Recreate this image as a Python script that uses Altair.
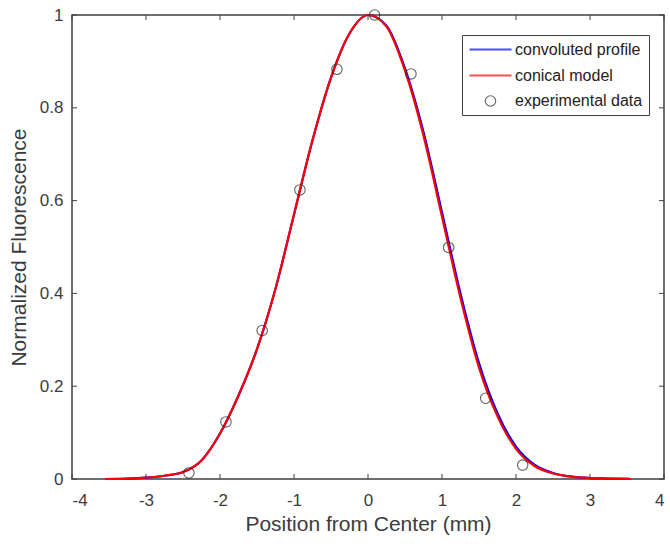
import altair as alt
import pandas as pd

# ---- data ----
x_ticks = [-4, -3, -2, -1, 0, 1, 2, 3, 4]
y_ticks = [0, 0.2, 0.4, 0.6, 0.8, 1]

curve_x = [-3.55, -3.25, -3.0, -2.75, -2.5, -2.25, -2.0, -1.75, -1.5, -1.25,
           -1.0, -0.75, -0.5, -0.25, 0.0, 0.25, 0.5, 0.75, 1.0, 1.25,
           1.5, 1.75, 2.0, 2.25, 2.5, 2.75, 3.0, 3.25, 3.55]
conical_y = [0.0, 0.001, 0.003, 0.007, 0.015, 0.040, 0.098, 0.180, 0.280, 0.410,
             0.570, 0.730, 0.865, 0.960, 1.000, 0.975, 0.880, 0.740, 0.565, 0.390,
             0.240, 0.135, 0.065, 0.028, 0.012, 0.005, 0.002, 0.001, 0.0]
convoluted_y = [0.0, 0.001, 0.003, 0.007, 0.015, 0.040, 0.098, 0.180, 0.280, 0.410,
                0.570, 0.730, 0.865, 0.960, 1.000, 0.977, 0.885, 0.748, 0.575, 0.400,
                0.250, 0.142, 0.070, 0.031, 0.013, 0.005, 0.002, 0.001, 0.0]

exp_x = [-2.42, -1.92, -1.43, -0.92, -0.42, 0.09, 0.58, 1.09, 1.59, 2.09]
exp_y = [0.013, 0.123, 0.320, 0.623, 0.883, 1.000, 0.873, 0.499, 0.174, 0.030]

series_names = ["convoluted profile", "conical model", "experimental data"]
series_colors = ["#0000ff", "#ff0000", "#222222"]
LEGEND_STROKE = "M-3,0L3,0"
series_shapes = [LEGEND_STROKE, LEGEND_STROKE, "circle"]
series_sizes = [196, 196, 110]
series_widths = [2.2, 2.2, 1.1]

# ---- tables ----
conv_df = pd.DataFrame({"x": curve_x, "y": convoluted_y, "series": series_names[0]})
coni_df = pd.DataFrame({"x": curve_x, "y": conical_y, "series": series_names[1]})
exp_df = pd.DataFrame({"x": exp_x, "y": exp_y, "series": series_names[2]})
xt_df = pd.DataFrame({"v": x_ticks})
yt_df = pd.DataFrame({"v": y_ticks})

FONT = "Liberation Sans"
TXT = "#3c3c3c"
AX = "#404040"

xscale = alt.Scale(domain=[-4, 4], nice=False, zero=False)
yscale = alt.Scale(domain=[0, 1], nice=False, zero=False)

x_enc = alt.X("x:Q", scale=xscale, axis=alt.Axis(
    values=x_ticks, labelExpr="'' + datum.value", ticks=False, tickSize=0,
    domain=False, grid=False, labelPadding=13, labelFontSize=17, labelFont=FONT,
    labelColor=TXT, title="Position from Center (mm)", titleFont=FONT,
    titleFontSize=21, titleFontWeight="normal", titleColor=TXT,
    titleY=45, titleBaseline="middle"))
y_enc = alt.Y("y:Q", scale=yscale, axis=alt.Axis(
    values=y_ticks, labelExpr="'' + datum.value", ticks=False, tickSize=0,
    domain=False, grid=False, labelPadding=9, labelFontSize=17, labelFont=FONT,
    labelColor=TXT, title="Normalized Fluorescence", titleFont=FONT,
    titleFontSize=21, titleFontWeight="normal", titleColor=TXT,
    titleX=-53, titleY=232, titleAngle=270, titleBaseline="middle"))

legend = alt.Legend(orient="none", legendX=390, legendY=20, padding=6,
                    strokeColor=AX, fillColor="white", labelFont=FONT,
                    labelFontSize=16, labelColor="#222222",
                    symbolOffset=14, labelOffset=16, rowPadding=9)

color_enc = alt.Color("series:N", scale=alt.Scale(domain=series_names, range=series_colors),
                      legend=legend, title=None)
width_enc = alt.StrokeWidth("series:N", scale=alt.Scale(type="ordinal", domain=series_names,
                                                         range=series_widths),
                            legend=legend, title=None)
shape_enc = alt.Shape("series:N", scale=alt.Scale(domain=series_names, range=series_shapes),
                      legend=legend, title=None)
size_enc = alt.Size("series:N", scale=alt.Scale(type="ordinal", domain=series_names,
                                                 range=series_sizes),
                    legend=legend, title=None)

conv_line = alt.Chart(conv_df).mark_line(interpolate="monotone").encode(
    x=x_enc, y=y_enc, color=color_enc, strokeWidth=width_enc)
coni_line = alt.Chart(coni_df).mark_line(interpolate="monotone").encode(
    x="x:Q", y="y:Q", color=color_enc, strokeWidth=width_enc)
points = alt.Chart(exp_df).mark_point(filled=False).encode(
    x="x:Q", y="y:Q", color=color_enc, shape=shape_enc, size=size_enc,
    strokeWidth=width_enc)

H = 464
W = 592
TL = 5
xt_bottom = alt.Chart(xt_df).mark_rule(color=AX, strokeWidth=1).encode(
    x=alt.X("v:Q", scale=xscale), y=alt.value(H), y2=alt.value(H - TL))
xt_top = alt.Chart(xt_df).mark_rule(color=AX, strokeWidth=1).encode(
    x=alt.X("v:Q", scale=xscale), y=alt.value(0), y2=alt.value(TL))
yt_left = alt.Chart(yt_df).mark_rule(color=AX, strokeWidth=1).encode(
    y=alt.Y("v:Q", scale=yscale), x=alt.value(0), x2=alt.value(TL))
yt_right = alt.Chart(yt_df).mark_rule(color=AX, strokeWidth=1).encode(
    y=alt.Y("v:Q", scale=yscale), x=alt.value(W), x2=alt.value(W - TL))

chart = alt.layer(conv_line, coni_line, xt_bottom, xt_top, yt_left, yt_right, points).properties(
    width=W, height=H,
    autosize=alt.AutoSizeParams(type="none"),
    padding={"left": 72, "top": 15, "right": 6, "bottom": 67},
    background="white",
).configure_view(stroke=AX, strokeWidth=1.5)

chart.save("out.html", embed_options={"renderer": "svg", "actions": False})
